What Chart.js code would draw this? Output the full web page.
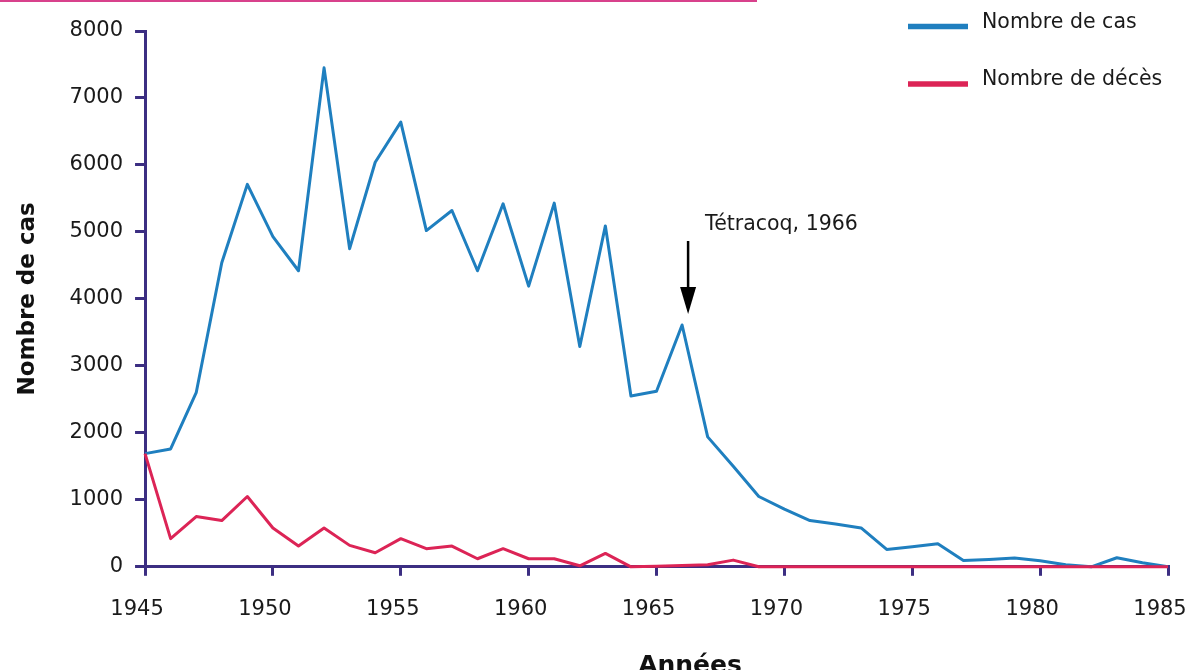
<!DOCTYPE html>
<html>
<head>
<meta charset="utf-8">
<script src="https://cdn.jsdelivr.net/npm/chart.js@4.4.1/dist/chart.umd.min.js"></script>
<style>
  html, body { margin: 0; padding: 0; background: #ffffff; }
  #wrap { position: relative; width: 1190px; height: 670px; overflow: hidden; }
  #topline { position: absolute; left: 0; top: 0; width: 757px; height: 2px; background: #d8418c; }
  canvas { position: absolute; left: 0; top: 0; }
</style>
</head>
<body>
<div id="wrap">
  <canvas id="c" width="1190" height="670"></canvas>
  <div id="topline"></div>
</div>
<script>
// ---- data ----
const years = [1945,1946,1947,1948,1949,1950,1951,1952,1953,1954,
               1955,1956,1957,1958,1959,1960,1961,1962,1963,1964,
               1965,1966,1967,1968,1969,1970,1971,1972,1973,1974,
               1975,1976,1977,1978,1979,1980,1981,1982,1983,1984,1985];
const cases = [1690,1760,2600,4540,5710,4930,4420,7450,4750,6040,
               6640,5020,5320,4420,5420,4190,5430,3290,5090,2550,
               2620,3610,1940,1500,1050,860,690,640,580,260,
               300,345,95,110,130,90,30,0,135,60,0];
const deaths = [1690,420,750,690,1050,580,310,580,320,210,
                420,270,310,120,270,120,120,15,200,0,
                10,20,30,100,0,0,0,0,0,0,
                0,0,0,0,0,0,0,0,0,0,0];
const seriesNames = ['Nombre de cas', 'Nombre de décès'];
const xTicks = [1945,1950,1955,1960,1965,1970,1975,1980,1985];
const yTicks = [0,1000,2000,3000,4000,5000,6000,7000,8000];
const xTitle = 'Années';
const yTitle = 'Nombre de cas';
const annotYear = 1966;
const annotText = 'Tétracoq, 1966';

// ---- styles ----
const FONT = "'DejaVu Sans', sans-serif";
const AXIS = '#3c2e82';
const BLUE = '#1f7fbf';
const RED = '#dc2456';
const TXT = '#1a1a1a';

const deco = {
  id: 'deco',
  afterDatasetsDraw(chart) {
    const ctx = chart.ctx;
    const xs = chart.scales.x, ys = chart.scales.y;
    ctx.save();
    // annotation arrow
    const i = years.indexOf(annotYear);
    const px = xs.getPixelForValue(annotYear) + 6;
    const tip = ys.getPixelForValue(cases[i]) - 11;
    ctx.strokeStyle = '#000';
    ctx.fillStyle = '#000';
    ctx.lineWidth = 2.5;
    ctx.beginPath();
    ctx.moveTo(px, tip - 73);
    ctx.lineTo(px, tip - 20);
    ctx.stroke();
    ctx.beginPath();
    ctx.moveTo(px - 8, tip - 27);
    ctx.lineTo(px + 8, tip - 27);
    ctx.lineTo(px, tip);
    ctx.closePath();
    ctx.fill();
    ctx.fillStyle = TXT;
    ctx.font = '20.5px ' + FONT;
    ctx.textBaseline = 'middle';
    ctx.textAlign = 'left';
    ctx.fillText(annotText, px + 17, tip - 89);

    // legend
    const ds = chart.data.datasets;
    const legY = [26.5, 84];
    ds.forEach((d, k) => {
      ctx.strokeStyle = d.borderColor;
      ctx.lineWidth = 5.5;
      ctx.beginPath();
      ctx.moveTo(908, legY[k]);
      ctx.lineTo(968, legY[k]);
      ctx.stroke();
      ctx.fillStyle = TXT;
      ctx.font = '20.5px ' + FONT;
      ctx.textBaseline = 'middle';
      ctx.fillText(d.label, 982, legY[k] - 4);
    });

    // x axis title
    ctx.fillStyle = '#111';
    ctx.font = 'bold 25px ' + FONT;
    ctx.textAlign = 'center';
    ctx.textBaseline = 'alphabetic';
    ctx.fillText(xTitle, 690, 673);
    ctx.restore();
  }
};

const mk = (vals) => years.map((yr, i) => ({ x: yr, y: vals[i] }));

new Chart(document.getElementById('c'), {
  type: 'line',
  data: {
    datasets: [
      { label: seriesNames[0], data: mk(cases), borderColor: BLUE, backgroundColor: BLUE,
        borderWidth: 3, pointRadius: 0, tension: 0, clip: false, order: 1, borderJoinStyle: 'round' },
      { label: seriesNames[1], data: mk(deaths), borderColor: RED, backgroundColor: RED,
        borderWidth: 3, pointRadius: 0, tension: 0, clip: false, order: 0, borderJoinStyle: 'round' }
    ]
  },
  options: {
    responsive: false,
    animation: false,
    devicePixelRatio: 1,
    layout: { padding: { left: 4, top: 31, right: 0, bottom: 27 } },
    plugins: { legend: { display: false }, tooltip: { enabled: false } },
    scales: {
      x: {
        type: 'linear', min: xTicks[0], max: xTicks[xTicks.length - 1],
        afterBuildTicks: (ax) => { ax.ticks = xTicks.map(v => ({ value: v })); },
        afterFit: (ax) => { ax.paddingRight = 22; },
        ticks: { font: { family: FONT, size: 21 }, color: TXT, padding: 21, maxRotation: 0,
                 labelOffset: -8, autoSkip: false, callback: (v) => String(v) },
        grid: { drawOnChartArea: false, drawTicks: true, tickLength: 9, color: AXIS, lineWidth: 3 },
        border: { display: true, color: AXIS, width: 3 }
      },
      y: {
        min: yTicks[0], max: yTicks[yTicks.length - 1],
        afterBuildTicks: (ax) => { ax.ticks = yTicks.map(v => ({ value: v })); },
        ticks: { font: { family: FONT, size: 21 }, color: TXT, padding: 12,
                 callback: (v) => String(v) },
        grid: { drawOnChartArea: false, drawTicks: true, tickLength: 10, color: AXIS, lineWidth: 3 },
        border: { display: true, color: AXIS, width: 3 },
        title: { display: true, text: yTitle, color: '#111',
                 font: { family: FONT, size: 23, weight: 'bold' }, padding: { top: 10, bottom: 16 } }
      }
    }
  },
  plugins: [deco]
});
</script>
</body>
</html>
